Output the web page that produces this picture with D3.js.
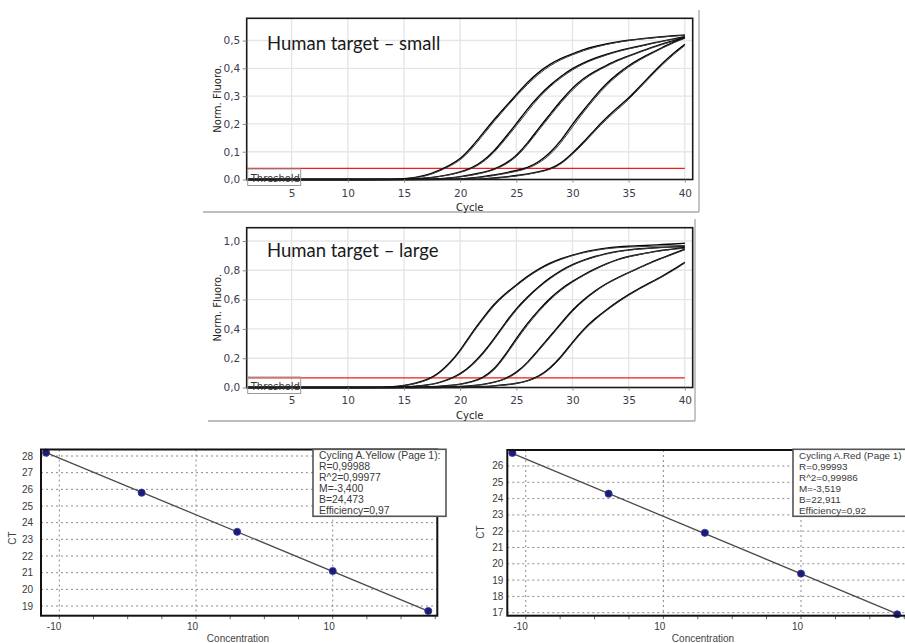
<!DOCTYPE html>
<html><head><meta charset="utf-8">
<script src="https://cdn.jsdelivr.net/npm/d3@7"></script>
<style>body{margin:0;background:#fff;} svg{display:block;}</style>
</head><body><svg id="c" width="905" height="643"></svg>
<script>
// ---------------- DATA ----------------
const cycleTicks = [5, 10, 15, 20, 25, 30, 35, 40];
const smallYTicks = [0, 0.1, 0.2, 0.3, 0.4, 0.5];
const largeYTicks = [0, 0.2, 0.4, 0.6, 0.8, 1.0];
const smallThreshold = 0.04;
const largeThreshold = 0.066;
const smallTitle = "Human target – small";
const largeTitle = "Human target – large";

// amplification curves: first cycle of each value list, then normalised fluorescence per cycle
const smallStarts = [14, 14, 15, 15, 17, 17, 19, 19, 21, 21];
const smallValues = [
  [0,0.002,0.007,0.015,0.03,0.05,0.072,0.115,0.165,0.215,0.26,0.305,0.35,0.387,0.415,0.437,0.452,0.468,0.479,0.488,0.495,0.501,0.506,0.51,0.514,0.517,0.52],
  [0,0.002,0.006,0.013,0.027,0.046,0.068,0.108,0.158,0.208,0.255,0.3,0.343,0.38,0.41,0.432,0.449,0.464,0.476,0.486,0.494,0.5,0.505,0.509,0.513,0.516,0.519],
  [0,0.002,0.005,0.01,0.017,0.027,0.04,0.065,0.1,0.15,0.2,0.255,0.3,0.34,0.372,0.4,0.42,0.437,0.45,0.462,0.472,0.48,0.49,0.498,0.506,0.514],
  [0,0.002,0.005,0.009,0.016,0.025,0.038,0.06,0.095,0.143,0.193,0.245,0.295,0.335,0.367,0.395,0.417,0.434,0.448,0.46,0.47,0.479,0.488,0.497,0.505,0.512],
  [0,0.002,0.005,0.01,0.017,0.025,0.036,0.055,0.085,0.13,0.185,0.235,0.285,0.33,0.365,0.39,0.41,0.43,0.445,0.46,0.475,0.488,0.5,0.51],
  [0,0.002,0.004,0.009,0.015,0.023,0.034,0.052,0.08,0.124,0.178,0.228,0.278,0.323,0.36,0.386,0.407,0.427,0.443,0.458,0.473,0.486,0.498,0.508],
  [0,0.002,0.005,0.01,0.016,0.024,0.032,0.042,0.063,0.095,0.14,0.2,0.25,0.3,0.345,0.38,0.41,0.435,0.455,0.475,0.495,0.51],
  [0,0.002,0.004,0.008,0.014,0.021,0.029,0.039,0.058,0.088,0.132,0.19,0.243,0.293,0.338,0.375,0.405,0.431,0.452,0.473,0.492,0.508],
  [0,0.002,0.005,0.009,0.014,0.02,0.028,0.037,0.058,0.095,0.135,0.18,0.222,0.258,0.293,0.335,0.377,0.418,0.455,0.486],
  [0,0.002,0.004,0.008,0.012,0.018,0.026,0.035,0.055,0.09,0.13,0.174,0.216,0.252,0.287,0.33,0.372,0.413,0.45,0.482]
];
const largeStarts = [13, 13, 14, 14, 16, 16, 18, 18, 20, 20];
const largeValues = [
  [0,0.004,0.013,0.028,0.05,0.09,0.16,0.25,0.37,0.47,0.57,0.64,0.70,0.76,0.81,0.85,0.88,0.905,0.925,0.94,0.952,0.96,0.965,0.968,0.972,0.976,0.98,0.985],
  [0,0.004,0.012,0.026,0.047,0.086,0.153,0.243,0.36,0.462,0.56,0.632,0.694,0.754,0.804,0.845,0.876,0.901,0.921,0.936,0.948,0.955,0.959,0.962,0.964,0.966,0.968,0.97],
  [0,0.003,0.008,0.016,0.03,0.055,0.09,0.15,0.23,0.33,0.44,0.54,0.62,0.69,0.75,0.80,0.84,0.87,0.895,0.915,0.93,0.94,0.948,0.953,0.957,0.96,0.963],
  [0,0.003,0.007,0.015,0.028,0.052,0.086,0.144,0.222,0.322,0.43,0.53,0.612,0.683,0.744,0.795,0.836,0.867,0.892,0.912,0.927,0.938,0.946,0.952,0.956,0.959,0.961],
  [0,0.003,0.007,0.013,0.022,0.038,0.065,0.12,0.22,0.335,0.44,0.53,0.61,0.675,0.725,0.77,0.81,0.845,0.875,0.895,0.91,0.925,0.937,0.947,0.955],
  [0,0.003,0.006,0.012,0.02,0.035,0.06,0.112,0.21,0.323,0.428,0.52,0.6,0.667,0.72,0.766,0.806,0.842,0.872,0.893,0.909,0.923,0.935,0.944,0.951],
  [0,0.003,0.007,0.012,0.02,0.035,0.058,0.1,0.17,0.26,0.35,0.44,0.53,0.6,0.66,0.71,0.75,0.785,0.82,0.855,0.885,0.915,0.945],
  [0,0.003,0.006,0.011,0.019,0.033,0.055,0.095,0.163,0.252,0.342,0.432,0.522,0.594,0.655,0.706,0.747,0.783,0.818,0.852,0.882,0.912,0.94],
  [0,0.003,0.006,0.011,0.018,0.028,0.045,0.075,0.13,0.21,0.31,0.4,0.47,0.53,0.585,0.635,0.68,0.72,0.76,0.805,0.855],
  [0,0.003,0.005,0.01,0.017,0.026,0.042,0.071,0.124,0.203,0.302,0.392,0.463,0.524,0.58,0.63,0.675,0.715,0.755,0.8,0.85]
];

// standard curves
const concentrations = [0.08, 0.4, 2, 10, 50];
const yellowCT = [28.2, 25.8, 23.45, 21.1, 18.7];
const redCT = [26.8, 24.3, 21.9, 19.4, 16.9];
const yellowM = -3.400, yellowB = 24.473;
const redM = -3.519, redB = 22.911;
const yellowLegend = ["Cycling A.Yellow (Page 1):", "R=0,99988", "R^2=0,99977", "M=-3,400", "B=24,473", "Efficiency=0,97"];
const redLegend = ["Cycling A.Red (Page 1)", "R=0,99993", "R^2=0,99986", "M=-3,519", "B=22,911", "Efficiency=0,92"];
const yellowCTTicks = [19, 20, 21, 22, 23, 24, 25, 26, 27, 28];
const redCTTicks = [17, 18, 19, 20, 21, 22, 23, 24, 25, 26];
const concTicks = [0.1, 1, 10];
const concTickLabels = ["-10", "10", "10"];

// ---------------- DRAW ----------------
const svg = d3.select("#c");
const comma = d3.formatLocale({decimal: ",", thousands: ".", grouping: [3], currency: ["", ""]}).format(".1f");
const TICKFONT = "'DejaVu Sans', Verdana, sans-serif";
const ARIAL = "'Liberation Sans', Arial, sans-serif";

function ampPanel(o) {
  const g = svg.append("g");
  const x = d3.scaleLinear().domain([1, 40.7]).range([o.left, o.right]);
  const y = d3.scaleLinear().domain([0, o.ymax]).range([o.bottom, o.top]);

  // outer panel lines
  g.append("line").attr("x1", o.outerRight).attr("x2", o.outerRight).attr("y1", o.outerTop).attr("y2", o.outerBottom)
    .attr("stroke", "#a8a8a8").attr("stroke-width", 1.3);
  g.append("line").attr("x1", o.outerLeft).attr("x2", o.outerRight).attr("y1", o.outerBottom).attr("y2", o.outerBottom)
    .attr("stroke", "#a8a8a8").attr("stroke-width", 1.3);

  // grid
  g.selectAll(".vg").data(cycleTicks).join("line")
    .attr("x1", d => x(d)).attr("x2", d => x(d)).attr("y1", o.top).attr("y2", o.bottom)
    .attr("stroke", "#e6e6e6").attr("stroke-width", 1.4);
  g.selectAll(".hg").data(o.yTicks.filter(v => v > 0)).join("line")
    .attr("x1", o.left).attr("x2", o.right).attr("y1", d => y(d)).attr("y2", d => y(d))
    .attr("stroke", "#e6e6e6").attr("stroke-width", 1.4);

  // threshold
  g.append("line").attr("x1", x(1)).attr("x2", x(40)).attr("y1", y(o.threshold)).attr("y2", y(o.threshold))
    .attr("stroke", "#ee1c1c").attr("stroke-width", 1.1);

  // curves
  const line = d3.line().x(d => x(d[0])).y(d => y(d[1])).curve(d3.curveBasis);
  o.values.forEach((vals, i) => {
    const pts = [[1, 0], [o.starts[i] - 1, 0]].concat(vals.map((v, j) => [o.starts[i] + j, v]));
    g.append("path").attr("d", line(pts)).attr("fill", "none")
      .attr("stroke", i % 2 === 0 ? "#000" : "#3a3a3a")
      .attr("stroke-width", i % 2 === 0 ? 1.4 : 1.0);
  });

  // frame
  g.append("rect").attr("x", o.left).attr("y", o.top).attr("width", o.right - o.left).attr("height", o.bottom - o.top)
    .attr("fill", "none").attr("stroke", "#1a1a1a").attr("stroke-width", 1.6);

  // threshold label box
  g.append("rect").attr("x", o.left + 1).attr("y", o.bottom - 10.5).attr("width", 53).attr("height", 16.5)
    .attr("fill", "none").attr("stroke", "#9a9a9a").attr("stroke-width", 1);
  g.append("text").attr("x", o.left + 4).attr("y", o.bottom + 2).text("Threshold")
    .attr("font-family", TICKFONT).attr("font-size", 10).attr("fill", "#333");

  // axes
  const ya = d3.axisLeft(y).tickValues(o.yTicks).tickSize(4).tickPadding(2.5).tickFormat(comma);
  const yg = g.append("g").attr("transform", `translate(${o.left},0)`).call(ya);
  const xa = d3.axisBottom(x).tickValues(cycleTicks).tickSize(3).tickPadding(o.xPad).tickFormat(d3.format("d"));
  const xg = g.append("g").attr("transform", `translate(0,${o.bottom})`).call(xa);
  [yg, xg].forEach(a => {
    a.select(".domain").remove();
    a.selectAll(".tick line").attr("stroke", "#888");
    a.selectAll("text").attr("font-family", TICKFONT).attr("font-size", 10.5).attr("fill", "#3c3c4c");
  });

  g.append("text").attr("transform", `translate(${o.left - 29},${(o.top + o.bottom) / 2}) rotate(-90)`)
    .attr("text-anchor", "middle").attr("dy", "0.35em").text("Norm. Fluoro.")
    .attr("font-family", TICKFONT).attr("font-size", 10).attr("fill", "#222");
  g.append("text").attr("x", (o.left + o.right) / 2).attr("y", o.cycleY).attr("text-anchor", "middle").text("Cycle")
    .attr("font-family", TICKFONT).attr("font-size", 10).attr("fill", "#222");

  g.append("text").attr("x", 267).attr("y", o.titleY).text(o.title)
    .attr("font-family", "Lato, 'Open Sans', sans-serif").attr("font-size", 18.5).attr("fill", "#1a1a1a");
}

ampPanel({left: 246.7, right: 692.7, top: 18.3, bottom: 179.5, ymax: 0.58, yTicks: smallYTicks,
  threshold: smallThreshold, starts: smallStarts, values: smallValues, title: smallTitle, titleY: 49.5,
  xPad: 7, cycleY: 210.5, outerLeft: 203, outerRight: 699, outerTop: 10, outerBottom: 212});
ampPanel({left: 246.7, right: 692.7, top: 227.7, bottom: 387.5, ymax: 1.091, yTicks: largeYTicks,
  threshold: largeThreshold, starts: largeStarts, values: largeValues, title: largeTitle, titleY: 257,
  xPad: 6, cycleY: 419, outerLeft: 208, outerRight: 695, outerTop: 219, outerBottom: 421});

function stdPanel(o) {
  const g = svg.append("g");
  const x = d3.scaleLog().domain([Math.pow(10, -1.134), Math.pow(10, 1.765)]).range([o.left, o.right]);
  const y = d3.scaleLinear().domain(o.ydom).range([o.bottom, o.top]);

  // dotted grid
  g.selectAll(".hg").data(o.yTicks).join("line")
    .attr("x1", o.left).attr("x2", o.right).attr("y1", d => y(d)).attr("y2", d => y(d))
    .attr("stroke", "#8a8a8a").attr("stroke-width", 1).attr("stroke-dasharray", "2,3");
  g.selectAll(".vg").data(concTicks).join("line")
    .attr("x1", d => x(d)).attr("x2", d => x(d)).attr("y1", o.top).attr("y2", o.bottom)
    .attr("stroke", "#8a8a8a").attr("stroke-width", 1).attr("stroke-dasharray", "2,3");

  // minor ticks along the bottom (quarter decades)
  const minor = d3.range(-1, 1.76, 0.25).map(e => Math.pow(10, e));
  g.selectAll(".mt").data(minor).join("line")
    .attr("x1", d => x(d)).attr("x2", d => x(d)).attr("y1", o.bottom).attr("y2", o.bottom + 3.5)
    .attr("stroke", "#666").attr("stroke-width", 1);

  // regression line
  const cmin = d3.min(concentrations), cmax = d3.max(concentrations);
  const fit = [cmin, cmax].map(c => [c, o.M * Math.log10(c) + o.B]);
  g.append("path").attr("d", d3.line().x(d => x(d[0])).y(d => y(d[1]))(fit))
    .attr("fill", "none").attr("stroke", "#4a4a4a").attr("stroke-width", 1.3);

  // points
  g.selectAll(".pt").data(concentrations.map((c, i) => [c, o.ct[i]])).join("circle")
    .attr("cx", d => x(d[0])).attr("cy", d => y(d[1])).attr("r", 3.6)
    .attr("fill", "#1c1c78").attr("stroke", "#3a3a9a").attr("stroke-width", 0.8);

  // frame
  g.append("rect").attr("x", o.left).attr("y", o.top).attr("width", o.right - o.left).attr("height", o.bottom - o.top)
    .attr("fill", "none").attr("stroke", "#111").attr("stroke-width", 2);

  // y labels
  g.selectAll(".yl").data(o.yTicks).join("text")
    .attr("x", o.left - o.yPad).attr("y", d => y(d)).attr("dy", "0.35em").attr("text-anchor", "end")
    .text(d => d).attr("font-family", ARIAL).attr("font-size", 10).attr("fill", "#3a3a3a");
  // x labels
  g.selectAll(".xl").data(concTicks).join("text")
    .attr("x", d => x(d) + 2).attr("y", 630).attr("text-anchor", "end")
    .text((d, i) => concTickLabels[i]).attr("font-family", ARIAL).attr("font-size", 10).attr("fill", "#3a3a3a");

  g.append("text").attr("x", o.concX).attr("y", 642).attr("text-anchor", "middle").text("Concentration")
    .attr("font-family", ARIAL).attr("font-size", 10).attr("fill", "#444");
  g.append("text").attr("transform", `translate(${o.ctX},${o.ctY}) rotate(-90)`).attr("text-anchor", "middle")
    .attr("dy", "0.35em").text("CT").attr("font-family", ARIAL).attr("font-size", 10).attr("fill", "#444");

  // legend box
  g.append("rect").attr("x", o.legX).attr("y", 449.3).attr("width", o.legW).attr("height", 67)
    .attr("fill", "#fff").attr("stroke", "#555").attr("stroke-width", 1.6);
  g.selectAll(".lg").data(o.legend).join("text")
    .attr("x", o.legX + 6).attr("y", (d, i) => 459 + i * 11).text(d => d)
    .attr("font-family", ARIAL).attr("font-size", o.legFont).attr("fill", "#3a3a3a");
}

stdPanel({left: 41, right: 437.3, top: 449.5, bottom: 615.7, ydom: [18.418, 28.39], yTicks: yellowCTTicks,
  ct: yellowCT, M: yellowM, B: yellowB, legend: yellowLegend, legX: 313, legW: 133, yPad: 8, legFont: 10.4,
  concX: 238, ctX: 12, ctY: 538});
stdPanel({left: 507.3, right: 906.3, top: 450, bottom: 615.7, ydom: [16.816, 26.98], yTicks: redCTTicks,
  ct: redCT, M: redM, B: redB, legend: redLegend, legX: 793, legW: 120, yPad: 4, legFont: 9.9,
  concX: 703, ctX: 480, ctY: 532});
</script>
</body></html>
